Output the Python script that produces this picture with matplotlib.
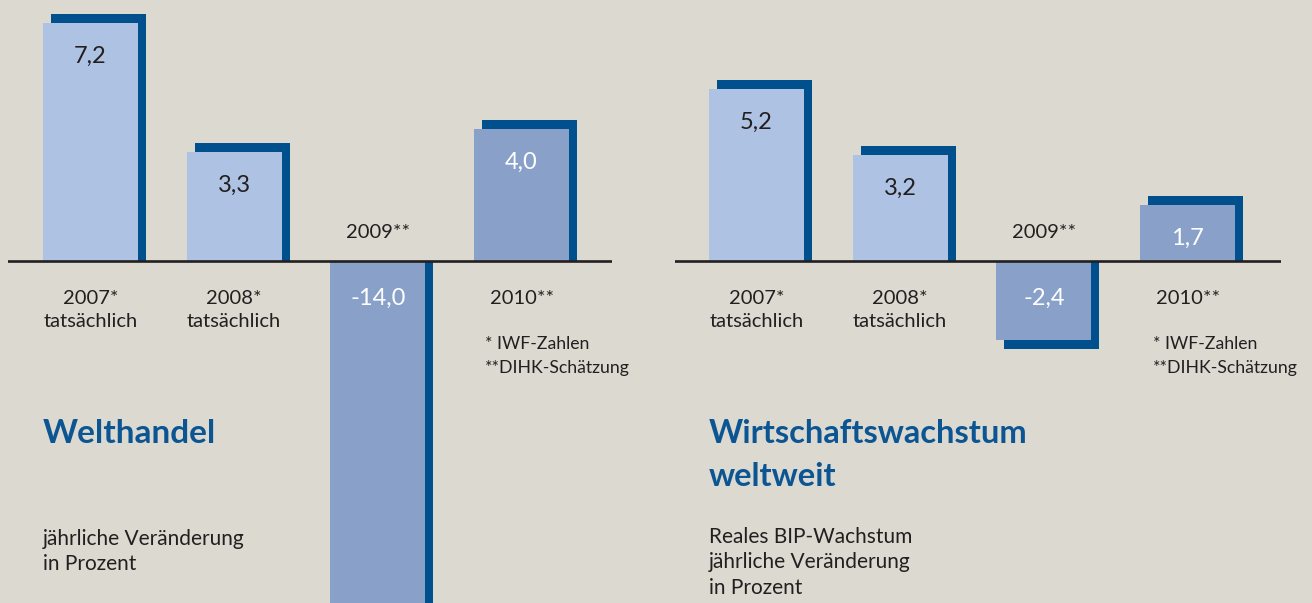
import matplotlib
matplotlib.use("Agg")
import matplotlib.pyplot as plt
import numpy as np

# ---------------- data ----------------
categories = ["2007*\ntatsächlich", "2008*\ntatsächlich", "2009**", "2010**"]
is_estimate = [False, False, True, True]
welthandel = [7.2, 3.3, -14.0, 4.0]
wachstum = [5.2, 3.2, -2.4, 1.7]
welthandel_labels = ["7,2", "3,3", "-14,0", "4,0"]
wachstum_labels = ["5,2", "3,2", "-2,4", "1,7"]
footnotes = ["* IWF-Zahlen", "**DIHK-Schätzung"]
left_title = ["Welthandel"]
left_sub = ["jährliche Veränderung", "in Prozent"]
right_title = ["Wirtschaftswachstum", "weltweit"]
right_sub = ["Reales BIP-Wachstum", "jährliche Veränderung", "in Prozent"]

# ---------------- style ----------------
BG = "#dcd9d1"
LIGHT = "#aec3e3"
DARK = "#89a1c9"
SHADOW = "#00508e"
TEXT = "#231f20"
TITLE = "#0b5593"
FONT = "Lato"

W, H = 1312, 603
PPU = 33.0        # pixels per percent
SPACING = 143.7   # pixels between bar centres
BASE_Y = 261      # baseline, pixels from top
BAR_W = 95 / SPACING
DX = 8 / SPACING
DY = 9 / PPU

plt.rcParams["font.family"] = [FONT, "DejaVu Sans"]

fig = plt.figure(figsize=(W / 100, H / 100), dpi=100, facecolor=BG)


def panel(x0, width, first_centre, values, labels):
    ax = fig.add_axes([x0 / W, 0, width / W, 1])
    ax.set_facecolor("none")
    ax.set_xlim(-(first_centre - x0) / SPACING, (x0 + width - first_centre) / SPACING)
    ax.set_ylim(-(H - BASE_Y) / PPU, BASE_Y / PPU)
    ax.axis("off")
    x = np.arange(len(values))
    vals = np.array(values)
    sign = np.sign(vals)
    colors = [DARK if e else LIGHT for e in is_estimate]
    ax.bar(x + DX, vals + sign * DY, width=BAR_W, color=SHADOW, zorder=1, linewidth=0)
    ax.bar(x, vals, width=BAR_W, color=colors, zorder=2, linewidth=0)
    ax.axhline(0, color=TEXT, lw=1.9, zorder=3)
    for i, (v, lab, cat, est) in enumerate(zip(values, labels, categories, is_estimate)):
        tc = "white" if est else TEXT
        if v > 0:
            ax.annotate(lab, (i, v), xytext=(0, -33), textcoords="offset pixels",
                        ha="center", va="center", fontsize=17, color=tc, zorder=4)
            ax.annotate(cat, (i, 0), xytext=(0, -29), textcoords="offset pixels",
                        ha="center", va="top", fontsize=14.5, color=TEXT,
                        linespacing=1.42, zorder=4)
        else:
            ax.annotate(lab, (i, 0), xytext=(0, -37), textcoords="offset pixels",
                        ha="center", va="center", fontsize=17, color=tc, zorder=4)
            ax.annotate(cat, (i, 0), xytext=(0, 29), textcoords="offset pixels",
                        ha="center", va="center", fontsize=14.5, color=TEXT, zorder=4)
    return ax


panel(8, 604, 90.5, welthandel, welthandel_labels)
panel(675, 606, 756.5, wachstum, wachstum_labels)


def lines(x_px, y0_px, step, texts, **kw):
    for k, t in enumerate(texts):
        fig.text(x_px / W, 1 - (y0_px + k * step) / H, t, ha="left", va="baseline", **kw)


lines(485, 349, 24, footnotes, fontsize=12.7, color=TEXT)
lines(1153, 349, 24, footnotes, fontsize=12.7, color=TEXT)
lines(43, 443, 43, left_title, fontsize=24, color=TITLE, fontweight="bold")
lines(709, 443, 43, right_title, fontsize=23.5, color=TITLE, fontweight="bold")
lines(43, 545, 25.5, left_sub, fontsize=15, color=TEXT)
lines(709, 543, 25.5, right_sub, fontsize=15, color=TEXT)

fig.savefig("out.png", dpi=100, facecolor=BG)
